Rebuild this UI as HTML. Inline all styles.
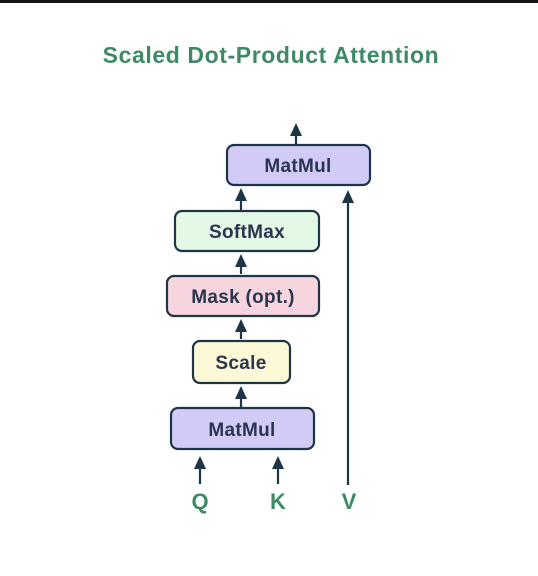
<!DOCTYPE html>
<html><head><meta charset="utf-8"><style>
html,body{margin:0;padding:0;background:#fff;width:538px;height:576px;overflow:hidden}
</style></head><body>
<svg width="538" height="576" xmlns="http://www.w3.org/2000/svg" font-family="Liberation Sans, sans-serif">
<rect x="0" y="0" width="538" height="3" fill="#151518"/>
<text x="271" y="63" text-anchor="middle" font-size="23" font-weight="bold" letter-spacing="0.6" fill="#3f8a66">Scaled Dot-Product Attention</text>
<g stroke="#1e3546" stroke-width="2.2">
<line x1="296" y1="144" x2="296" y2="132"/>
<line x1="348" y1="485" x2="348" y2="200"/>
<line x1="241" y1="210" x2="241" y2="198"/>
<line x1="241" y1="274" x2="241" y2="264"/>
<line x1="241" y1="339" x2="241" y2="330"/>
<line x1="241" y1="407" x2="241" y2="396"/>
<line x1="200" y1="484" x2="200" y2="466"/>
<line x1="278" y1="484" x2="278" y2="466"/>
</g>
<g fill="#1e3546">
<polygon points="290,136 296,123 302,136"/>
<polygon points="342,203 348,190 354,203"/>
<polygon points="235,201 241,188 247,201"/>
<polygon points="235,267 241,254 247,267"/>
<polygon points="235,332 241,319 247,332"/>
<polygon points="235,399 241,386 247,399"/>
<polygon points="194,469 200,456 206,469"/>
<polygon points="272,469 278,456 284,469"/>
</g>
<g stroke="#1e3546" stroke-width="2.2">
<rect x="227" y="145" width="143" height="40" rx="7" fill="#d3cbf7"/>
<rect x="175" y="211" width="144" height="40" rx="7" fill="#e3f8e5"/>
<rect x="167" y="276" width="152" height="40" rx="7" fill="#f6d5df"/>
<rect x="193" y="341" width="97" height="42" rx="7" fill="#fdf8d6"/>
<rect x="171" y="408" width="143" height="41" rx="7" fill="#d3cbf7"/>
</g>
<g font-size="19" font-weight="600" fill="#2a3550" text-anchor="middle" letter-spacing="0.3">
<text x="298" y="172">MatMul</text>
<text x="247" y="238">SoftMax</text>
<text x="243" y="303">Mask (opt.)</text>
<text x="241" y="369">Scale</text>
<text x="242" y="436">MatMul</text>
</g>
<g font-size="22" font-weight="bold" fill="#3d8a63" text-anchor="middle">
<text x="200" y="509">Q</text>
<text x="278" y="509">K</text>
<text x="349" y="509">V</text>
</g>
</svg>
</body></html>
